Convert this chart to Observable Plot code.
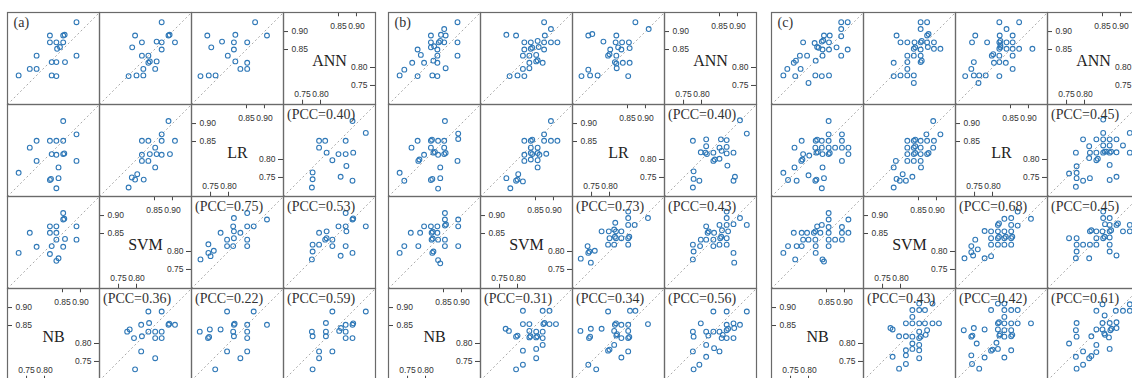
<!DOCTYPE html>
<html><head><meta charset="utf-8">
<script src="https://cdn.jsdelivr.net/npm/d3@7"></script>
<script src="https://cdn.jsdelivr.net/npm/@observablehq/plot@0.6"></script>
<style>
html,body{margin:0;padding:0;background:#fff;overflow:hidden}
#chart{position:relative;width:1132px;height:378px;overflow:hidden;background:#fff}
#chart > div{position:absolute}
#chart svg{display:block;max-width:none}
</style></head><body><div id="chart"></div>
<script>
// ---------------- data ----------------
const VARIABLES = ["NB", "SVM", "LR", "ANN"];   // bottom-left -> top-right of the matrix
const PANEL_LABELS = ["(a)", "(b)", "(c)"];
const DOMAIN = [0.697, 0.953];
const TICKS_LOW = [0.75, 0.80];
const TICKS_HIGH = [0.85, 0.90];
const PCC_PAIRS = [["ANN","LR"], ["LR","SVM"], ["ANN","SVM"], ["SVM","NB"], ["LR","NB"], ["ANN","NB"]]; // [x, y]
const a_pcc = [0.40, 0.75, 0.53, 0.36, 0.22, 0.59];
const b_pcc = [0.40, 0.73, 0.43, 0.31, 0.34, 0.56];
const c_pcc = [0.45, 0.68, 0.45, 0.43, 0.42, 0.61];

// scatter pairs, each point [x, y]; name = y_x
// ---- panel (a)
const a_ann_nb = [[0.889,0.926],[0.815,0.889],[0.852,0.889],[0.856,0.891],[0.815,0.870],[0.833,0.870],[0.852,0.870],[0.843,0.857],[0.835,0.852],[0.778,0.833],[0.889,0.833],[0.820,0.815],[0.833,0.815],[0.857,0.815],[0.759,0.796],[0.778,0.796],[0.728,0.778],[0.820,0.778],[0.833,0.776]];
const a_ann_svm = [[0.870,0.926],[0.796,0.889],[0.889,0.889],[0.892,0.891],[0.788,0.856],[0.815,0.870],[0.856,0.872],[0.870,0.870],[0.907,0.870],[0.870,0.850],[0.815,0.833],[0.833,0.833],[0.837,0.817],[0.833,0.813],[0.856,0.817],[0.819,0.796],[0.852,0.796],[0.778,0.776],[0.800,0.778],[0.819,0.778]];
const a_ann_lr = [[0.874,0.926],[0.741,0.889],[0.819,0.891],[0.907,0.889],[0.752,0.856],[0.782,0.872],[0.815,0.870],[0.852,0.870],[0.815,0.850],[0.798,0.833],[0.819,0.817],[0.852,0.813],[0.852,0.796],[0.833,0.796],[0.722,0.776],[0.745,0.778],[0.764,0.778]];
const a_lr_nb = [[0.852,0.907],[0.889,0.870],[0.778,0.852],[0.815,0.852],[0.833,0.852],[0.852,0.852],[0.759,0.833],[0.820,0.815],[0.833,0.813],[0.852,0.815],[0.855,0.817],[0.778,0.796],[0.889,0.796],[0.839,0.778],[0.728,0.763],[0.815,0.743],[0.818,0.746],[0.839,0.748],[0.833,0.720]];
const a_lr_svm = [[0.889,0.907],[0.870,0.870],[0.815,0.852],[0.833,0.852],[0.870,0.852],[0.907,0.852],[0.852,0.833],[0.815,0.813],[0.837,0.815],[0.856,0.815],[0.870,0.813],[0.893,0.815],[0.815,0.796],[0.833,0.796],[0.852,0.778],[0.802,0.759],[0.787,0.750],[0.796,0.744],[0.820,0.744],[0.778,0.722]];
const a_svm_nb = [[0.852,0.907],[0.852,0.889],[0.855,0.891],[0.815,0.870],[0.833,0.870],[0.889,0.870],[0.759,0.852],[0.815,0.852],[0.833,0.852],[0.833,0.833],[0.857,0.835],[0.889,0.833],[0.820,0.815],[0.778,0.813],[0.852,0.813],[0.728,0.796],[0.815,0.793],[0.839,0.781],[0.833,0.774]];
// ---- panel (b)
const b_ann_nb = [[0.889,0.926],[0.852,0.907],[0.815,0.889],[0.843,0.891],[0.856,0.889],[0.815,0.870],[0.837,0.870],[0.841,0.874],[0.852,0.870],[0.889,0.870],[0.815,0.856],[0.824,0.859],[0.778,0.850],[0.833,0.850],[0.787,0.835],[0.833,0.833],[0.889,0.833],[0.763,0.813],[0.796,0.813],[0.822,0.819],[0.833,0.813],[0.856,0.798],[0.741,0.794],[0.728,0.778],[0.778,0.776],[0.819,0.778],[0.833,0.776]];
const b_ann_svm = [[0.874,0.926],[0.893,0.907],[0.769,0.891],[0.796,0.889],[0.876,0.889],[0.819,0.870],[0.837,0.870],[0.856,0.874],[0.874,0.870],[0.893,0.870],[0.911,0.870],[0.837,0.852],[0.841,0.855],[0.819,0.850],[0.859,0.857],[0.874,0.850],[0.815,0.833],[0.833,0.833],[0.852,0.835],[0.833,0.813],[0.852,0.817],[0.856,0.820],[0.870,0.813],[0.815,0.796],[0.833,0.798],[0.778,0.776],[0.800,0.778],[0.819,0.776]];
const b_ann_lr = [[0.872,0.926],[0.909,0.907],[0.741,0.889],[0.752,0.893],[0.819,0.889],[0.783,0.872],[0.817,0.870],[0.835,0.870],[0.854,0.870],[0.802,0.850],[0.824,0.856],[0.833,0.850],[0.856,0.854],[0.796,0.833],[0.800,0.837],[0.819,0.833],[0.815,0.815],[0.819,0.811],[0.837,0.813],[0.856,0.813],[0.820,0.798],[0.741,0.794],[0.722,0.776],[0.746,0.778],[0.767,0.778],[0.852,0.776]];
const b_lr_nb = [[0.854,0.907],[0.891,0.872],[0.891,0.857],[0.778,0.852],[0.815,0.852],[0.818,0.855],[0.835,0.852],[0.852,0.852],[0.761,0.833],[0.815,0.833],[0.852,0.833],[0.796,0.813],[0.822,0.819],[0.826,0.821],[0.835,0.813],[0.852,0.815],[0.856,0.818],[0.780,0.796],[0.783,0.800],[0.889,0.796],[0.841,0.778],[0.728,0.763],[0.741,0.741],[0.815,0.743],[0.819,0.746],[0.841,0.748],[0.835,0.719]];
const b_lr_svm = [[0.893,0.907],[0.874,0.870],[0.819,0.852],[0.837,0.852],[0.841,0.855],[0.874,0.852],[0.893,0.852],[0.911,0.852],[0.837,0.833],[0.856,0.833],[0.819,0.813],[0.837,0.818],[0.841,0.815],[0.856,0.818],[0.861,0.813],[0.880,0.816],[0.819,0.796],[0.837,0.800],[0.856,0.798],[0.856,0.778],[0.802,0.759],[0.769,0.748],[0.796,0.741],[0.800,0.744],[0.815,0.739],[0.780,0.720]];
const b_svm_nb = [[0.854,0.907],[0.854,0.889],[0.891,0.889],[0.796,0.870],[0.815,0.870],[0.833,0.870],[0.854,0.872],[0.857,0.875],[0.891,0.870],[0.759,0.852],[0.785,0.852],[0.817,0.852],[0.820,0.855],[0.833,0.852],[0.817,0.833],[0.820,0.836],[0.835,0.833],[0.854,0.833],[0.728,0.796],[0.741,0.815],[0.780,0.815],[0.854,0.815],[0.891,0.815],[0.819,0.796],[0.822,0.800],[0.835,0.776],[0.841,0.767]];
// ---- panel (c)
const c_ann_nb = [[0.891,0.926],[0.909,0.926],[0.891,0.907],[0.843,0.889],[0.859,0.889],[0.891,0.887],[0.785,0.870],[0.817,0.868],[0.837,0.872],[0.841,0.875],[0.857,0.870],[0.824,0.857],[0.828,0.855],[0.839,0.850],[0.857,0.850],[0.878,0.856],[0.909,0.850],[0.776,0.833],[0.796,0.833],[0.839,0.833],[0.891,0.833],[0.759,0.813],[0.765,0.819],[0.820,0.819],[0.741,0.796],[0.778,0.796],[0.730,0.778],[0.763,0.776],[0.819,0.778],[0.837,0.776],[0.857,0.778],[0.800,0.757]];
const c_ann_svm = [[0.856,0.926],[0.874,0.926],[0.856,0.907],[0.789,0.889],[0.874,0.889],[0.878,0.893],[0.800,0.870],[0.819,0.870],[0.839,0.870],[0.856,0.870],[0.859,0.874],[0.874,0.870],[0.893,0.870],[0.837,0.852],[0.841,0.856],[0.876,0.857],[0.893,0.852],[0.911,0.852],[0.856,0.850],[0.819,0.833],[0.837,0.833],[0.856,0.833],[0.781,0.813],[0.819,0.815],[0.856,0.815],[0.859,0.819],[0.819,0.796],[0.781,0.776],[0.800,0.778],[0.819,0.778],[0.837,0.778],[0.837,0.757]];
const c_ann_lr = [[0.819,0.926],[0.874,0.926],[0.839,0.907],[0.752,0.889],[0.820,0.889],[0.856,0.889],[0.743,0.870],[0.785,0.870],[0.819,0.870],[0.822,0.874],[0.839,0.870],[0.856,0.870],[0.819,0.852],[0.822,0.856],[0.839,0.852],[0.856,0.852],[0.874,0.852],[0.911,0.852],[0.822,0.861],[0.798,0.833],[0.802,0.837],[0.819,0.833],[0.856,0.833],[0.748,0.815],[0.804,0.813],[0.819,0.815],[0.837,0.813],[0.741,0.796],[0.856,0.796],[0.724,0.776],[0.748,0.778],[0.763,0.778],[0.781,0.778],[0.819,0.776],[0.761,0.757]];
const c_lr_nb = [[0.856,0.907],[0.856,0.870],[0.893,0.870],[0.781,0.852],[0.820,0.852],[0.824,0.855],[0.837,0.852],[0.856,0.852],[0.893,0.852],[0.761,0.833],[0.819,0.833],[0.837,0.833],[0.856,0.833],[0.874,0.833],[0.893,0.833],[0.911,0.833],[0.785,0.815],[0.802,0.811],[0.822,0.819],[0.826,0.821],[0.839,0.815],[0.856,0.815],[0.859,0.818],[0.911,0.815],[0.780,0.796],[0.783,0.800],[0.893,0.796],[0.761,0.778],[0.839,0.778],[0.730,0.763],[0.800,0.756],[0.743,0.743],[0.767,0.741],[0.819,0.741],[0.822,0.744],[0.843,0.748],[0.837,0.720]];
const c_lr_svm = [[0.891,0.907],[0.872,0.870],[0.911,0.870],[0.819,0.852],[0.837,0.852],[0.841,0.855],[0.856,0.852],[0.874,0.852],[0.893,0.852],[0.819,0.833],[0.837,0.833],[0.841,0.837],[0.856,0.833],[0.891,0.833],[0.819,0.815],[0.837,0.815],[0.841,0.818],[0.856,0.815],[0.874,0.815],[0.878,0.818],[0.787,0.796],[0.819,0.796],[0.837,0.796],[0.856,0.796],[0.781,0.778],[0.857,0.778],[0.806,0.759],[0.789,0.746],[0.798,0.741],[0.815,0.741],[0.833,0.752],[0.781,0.722]];
const c_svm_nb = [[0.856,0.907],[0.856,0.889],[0.911,0.889],[0.824,0.870],[0.837,0.874],[0.856,0.868],[0.893,0.868],[0.759,0.852],[0.781,0.852],[0.796,0.852],[0.815,0.852],[0.819,0.856],[0.833,0.852],[0.856,0.852],[0.893,0.852],[0.911,0.852],[0.785,0.833],[0.800,0.833],[0.819,0.833],[0.856,0.833],[0.874,0.833],[0.893,0.833],[0.743,0.815],[0.767,0.815],[0.781,0.815],[0.820,0.815],[0.856,0.815],[0.730,0.796],[0.820,0.796],[0.763,0.778],[0.839,0.778],[0.843,0.772]];

const PANELS = [
  {label: PANEL_LABELS[0], pcc: a_pcc, pairs: [["NB","ANN",a_ann_nb],["SVM","ANN",a_ann_svm],["LR","ANN",a_ann_lr],["NB","LR",a_lr_nb],["SVM","LR",a_lr_svm],["NB","SVM",a_svm_nb]]},
  {label: PANEL_LABELS[1], pcc: b_pcc, pairs: [["NB","ANN",b_ann_nb],["SVM","ANN",b_ann_svm],["LR","ANN",b_ann_lr],["NB","LR",b_lr_nb],["SVM","LR",b_lr_svm],["NB","SVM",b_svm_nb]]},
  {label: PANEL_LABELS[2], pcc: c_pcc, pairs: [["NB","ANN",c_ann_nb],["SVM","ANN",c_ann_svm],["LR","ANN",c_ann_lr],["NB","LR",c_lr_nb],["SVM","LR",c_lr_svm],["NB","SVM",c_svm_nb]]}
];

// ---------------- layout / style ----------------
const PANEL_LEFT = [6, 387, 770];
const PANEL_TOP = 9;
const PLOT_W = 370, PLOT_H = 373, M = 1;
const CELL_W = (PLOT_W - 2 * M) / 4, CELL_H = (PLOT_H - 2 * M) / 4;
const TICK_LEN = 5;
const SERIF = "'Liberation Serif', 'Times New Roman', serif";
const SANS = "'Liberation Sans', Arial, sans-serif";
const DOT_COLOR = "#2f78b7";
const BORDER = "#6a6a6a";
const fmt2 = d3.format(".2f");

const col = v => VARIABLES.indexOf(v);
const row = v => 3 - VARIABLES.indexOf(v);

function panelPlot(panel) {
  const points = [];
  for (const [xv, yv, data] of panel.pairs) {
    for (const [x, y] of data) {
      points.push({c: col(xv), r: row(yv), x, y});
      points.push({c: col(yv), r: row(xv), x: y, y: x});
    }
  }
  const cells = [];
  for (let r = 0; r < 4; ++r) for (let c = 0; c < 4; ++c) if (r + c !== 3) cells.push({r, c, lo: DOMAIN[0], hi: DOMAIN[1]});
  const diag = VARIABLES.map((name, c) => ({c, r: 3 - c, name}));
  const tk = (vals) => diag.flatMap(d => vals.map(v => ({c: d.c, r: d.r, v, label: fmt2(v)})));
  const low = tk(TICKS_LOW), high = tk(TICKS_HIGH);
  const pcc = PCC_PAIRS.map(([xv, yv], i) => ({c: col(xv), r: row(yv), text: `(PCC=${fmt2(panel.pcc[i])})`}));
  const title = [{c: 0, r: 0, text: panel.label}];
  const f = {fx: "c", fy: "r"};
  const tickText = {fill: "#333", fontSize: 8.5, fontFamily: SANS};
  return Plot.plot({
    width: PLOT_W, height: PLOT_H,
    marginTop: M, marginRight: M, marginBottom: M, marginLeft: M,
    style: {fontFamily: SANS, fontSize: "10px", background: "transparent", overflow: "visible"},
    x: {domain: DOMAIN, axis: null},
    y: {domain: DOMAIN, axis: null},
    fx: {domain: [0, 1, 2, 3], padding: 0, axis: null},
    fy: {domain: [0, 1, 2, 3], padding: 0, axis: null},
    marks: [
      Plot.link(cells, {...f, x1: "lo", y1: "lo", x2: "hi", y2: "hi", stroke: "#a0a0a0", strokeWidth: 0.9, strokeDasharray: "2,2.5"}),
      Plot.dot(points, {...f, x: "x", y: "y", r: 2.4, stroke: DOT_COLOR, strokeWidth: 1.1, fill: "none"}),
      Plot.text(diag, {...f, text: "name", frameAnchor: "middle", dy: 2, fontFamily: SERIF, fontSize: 16, fill: "#222"}),
      // diagonal-cell ticks
      Plot.ruleX(low, {...f, x: "v", insetTop: CELL_H - TICK_LEN, stroke: "#444"}),
      Plot.ruleX(high, {...f, x: "v", insetBottom: CELL_H - TICK_LEN, stroke: "#444"}),
      Plot.ruleY(high, {...f, y: "v", insetRight: CELL_W - TICK_LEN, stroke: "#444"}),
      Plot.ruleY(low, {...f, y: "v", insetLeft: CELL_W - TICK_LEN, stroke: "#444"}),
      Plot.text(low, {...f, ...tickText, x: "v", text: "label", frameAnchor: "bottom", lineAnchor: "middle", dy: -10.5}),
      Plot.text(high, {...f, ...tickText, x: "v", text: "label", frameAnchor: "top", lineAnchor: "middle", dy: 14}),
      Plot.text(high, {...f, ...tickText, y: "v", text: "label", frameAnchor: "left", lineAnchor: "middle", dx: 8, textAnchor: "start"}),
      Plot.text(low, {...f, ...tickText, y: "v", text: "label", frameAnchor: "right", lineAnchor: "middle", dx: -8, textAnchor: "end"}),
      Plot.text(pcc, {...f, text: "text", frameAnchor: "top-left", textAnchor: "start", lineAnchor: "top", dx: 3.5, dy: 4.5, fontFamily: SERIF, fontSize: 14, fill: "#333"}),
      Plot.text(title, {...f, text: "text", frameAnchor: "top-left", textAnchor: "start", lineAnchor: "top", dx: 6, dy: 5, fontFamily: SERIF, fontSize: 14, fill: "#333"}),
      Plot.frame({stroke: BORDER, strokeWidth: 1.2})
    ]
  });
}

const root = document.getElementById("chart");
PANELS.forEach((panel, i) => {
  const holder = document.createElement("div");
  holder.style.left = PANEL_LEFT[i] + "px";
  holder.style.top = PANEL_TOP + "px";
  holder.style.width = PLOT_W + "px";
  holder.appendChild(panelPlot(panel));
  root.appendChild(holder);
});
</script></body></html>
